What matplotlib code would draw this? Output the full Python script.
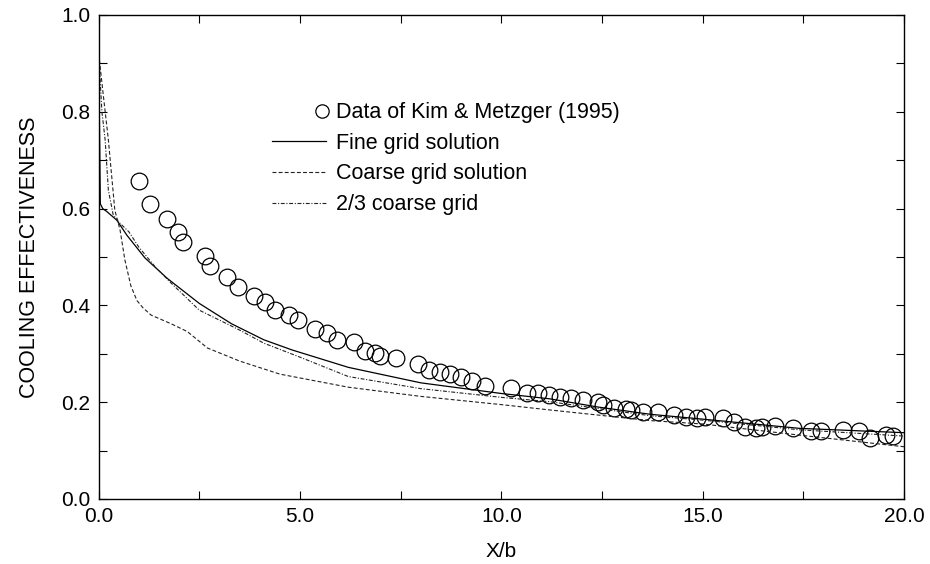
import matplotlib
matplotlib.use("Agg")
import matplotlib.pyplot as plt
from matplotlib import ticker
from matplotlib.legend_handler import HandlerLine2D

plt.rcParams['font.family'] = ['Liberation Sans', 'DejaVu Sans']

# measured data (Kim & Metzger 1995)
data_x = [1.00, 1.27, 1.69, 1.96, 2.10, 2.64, 2.76, 3.19, 3.46, 3.86, 4.13, 4.39, 4.72, 4.95,
          5.37, 5.66, 5.92, 6.35, 6.61, 6.86, 6.98, 7.39, 7.93, 8.20, 8.47, 8.73, 9.01, 9.28,
          9.59, 10.25, 10.64, 10.91, 11.18, 11.45, 11.74, 12.03, 12.40, 12.52, 12.81, 13.10,
          13.22, 13.52, 13.89, 14.30, 14.58, 14.86, 15.07, 15.50, 15.79, 16.04, 16.32, 16.48,
          16.79, 17.24, 17.70, 17.94, 18.48, 18.88, 19.16, 19.56, 19.72]
data_y = [0.658, 0.609, 0.578, 0.552, 0.530, 0.502, 0.481, 0.458, 0.439, 0.419, 0.408, 0.390,
          0.380, 0.370, 0.351, 0.342, 0.329, 0.324, 0.306, 0.301, 0.295, 0.292, 0.278, 0.267,
          0.263, 0.258, 0.253, 0.244, 0.233, 0.230, 0.220, 0.218, 0.215, 0.210, 0.208, 0.205,
          0.201, 0.194, 0.189, 0.186, 0.184, 0.179, 0.179, 0.174, 0.170, 0.167, 0.169, 0.167,
          0.160, 0.149, 0.146, 0.149, 0.151, 0.146, 0.141, 0.140, 0.143, 0.141, 0.127, 0.132,
          0.130]

fine_x = [0, 0.04, 0.1, 0.2, 0.45, 0.7, 1.15, 1.7, 2.5, 3.3, 4.1, 4.8, 6.2, 8, 10, 11.2,
          12.4, 13.7, 15, 17.4, 20]
fine_y = [0.92, 0.61, 0.60, 0.594, 0.576, 0.545, 0.498, 0.456, 0.404, 0.362, 0.329, 0.308,
          0.272, 0.24, 0.218, 0.207, 0.19, 0.175, 0.165, 0.146, 0.137]

coarse_x = [0, 0.12, 0.24, 0.4, 0.53, 0.65, 0.8, 0.95, 1.1, 1.3, 1.8, 2.2, 2.7, 3.5, 4.5,
            6.2, 8, 10, 11.2, 13.7, 15, 17.4, 20]
coarse_y = [0.92, 0.83, 0.742, 0.597, 0.556, 0.494, 0.44, 0.41, 0.395, 0.38, 0.362, 0.346,
            0.312, 0.285, 0.258, 0.231, 0.212, 0.195, 0.184, 0.162, 0.155, 0.132, 0.108]

twothird_x = [0, 0.08, 0.16, 0.24, 0.36, 0.5, 0.75, 1.0, 1.4, 1.8, 2.5, 3.5, 4.1, 5, 6.2,
              8, 10, 11.2, 13.7, 15, 17.4, 20]
twothird_y = [0.92, 0.80, 0.742, 0.638, 0.587, 0.572, 0.552, 0.52, 0.48, 0.446, 0.39, 0.349,
              0.322, 0.293, 0.253, 0.228, 0.21, 0.201, 0.172, 0.163, 0.143, 0.13]


class MarkerAtRight(HandlerLine2D):
    # gnuplot puts the point sample right next to the text
    def get_xdata(self, legend, xdescent, ydescent, width, height, fontsize):
        p = -xdescent + width * 0.93
        return [p, p], [p]


fig = plt.figure(figsize=(9.3, 5.64), dpi=100)
ax = fig.add_axes([98.7 / 930, 1 - 499 / 564, 805.3 / 930, 484 / 564])

pts, = ax.plot(data_x, data_y, 'o', ms=12, mfc='none', mec='black', mew=0.9,
               label='Data of Kim & Metzger (1995)')
ax.plot(fine_x, fine_y, '-', color='black', lw=0.9, label='Fine grid solution')
ax.plot(coarse_x, coarse_y, color='#222222', lw=0.8, dashes=(3.5, 2),
        label='Coarse grid solution')
ax.plot(twothird_x, twothird_y, color='#222222', lw=0.8, dashes=(3.5, 1.5, 1, 1.5),
        label='2/3 coarse grid')

ax.set_xlim(0, 20)
ax.set_ylim(0, 1)
ax.xaxis.set_major_locator(ticker.MultipleLocator(5))
ax.xaxis.set_minor_locator(ticker.MultipleLocator(2.5))
ax.yaxis.set_major_locator(ticker.MultipleLocator(0.2))
ax.yaxis.set_minor_locator(ticker.MultipleLocator(0.1))
ax.xaxis.set_major_formatter(ticker.FormatStrFormatter('%.1f'))
ax.yaxis.set_major_formatter(ticker.FormatStrFormatter('%.1f'))
ax.tick_params(which='both', direction='in', top=True, right=True, labelsize=15, width=0.8)
ax.tick_params(which='major', length=6, pad=6)
ax.tick_params(which='minor', length=6)
for s in ax.spines.values():
    s.set_linewidth(1.0)

ax.set_xlabel('X/b', fontsize=15, labelpad=11)
ax.set_ylabel('COOLING EFFECTIVENESS', fontsize=15.5, labelpad=15)

ax.legend(loc='upper left', bbox_to_anchor=(0.215, 0.82), frameon=False, fontsize=15.5,
          handlelength=2.5, handletextpad=0.5, labelspacing=0.45, borderpad=0,
          markerscale=0.8, borderaxespad=0, numpoints=1,
          handler_map={pts: MarkerAtRight(numpoints=1)})

fig.savefig('out.png', dpi=100)
